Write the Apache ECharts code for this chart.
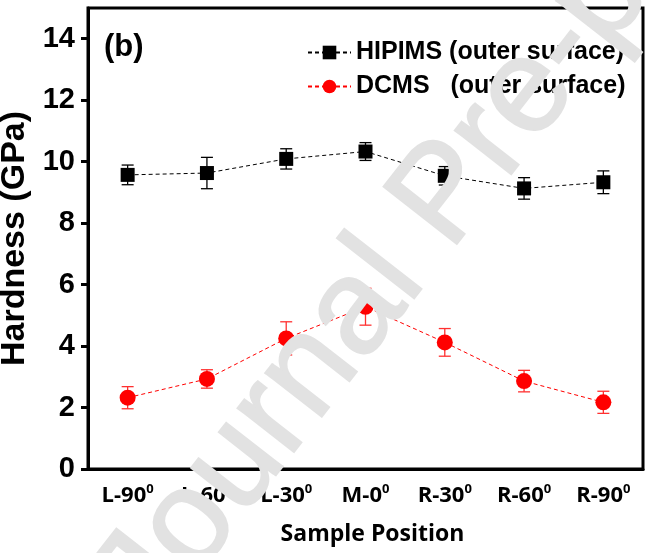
<!DOCTYPE html>
<html>
<head>
<meta charset="utf-8">
<script src="https://cdn.jsdelivr.net/npm/echarts@6/dist/echarts.min.js"></script>
<style>
  html, body { margin: 0; padding: 0; background: #fff; }
  #chart { width: 645px; height: 553px; }
</style>
</head>
<body>
<div id="chart"></div>
<script>
// Sample positions along the substrate (angle shown as a superscript 0)
const positions = ['L-90', 'L-60', 'L-30', 'M-0', 'R-30', 'R-60', 'R-90'];

// Hardness (GPa) and error bar half-widths
const hipimsHardness = [9.57, 9.63, 10.09, 10.33, 9.54, 9.13, 9.33];
const hipimsError    = [0.32, 0.51, 0.33, 0.29, 0.30, 0.35, 0.37];
const dcmsHardness   = [2.32, 2.93, 4.25, 5.28, 4.12, 2.86, 2.17];
const dcmsError      = [0.36, 0.30, 0.54, 0.60, 0.45, 0.35, 0.36];

// Y axis tick values
const yTicks = [0, 2, 4, 6, 8, 10, 12, 14];

const hipimsName = 'HIPIMS (outer surface)';
const dcmsName = 'DCMS   (outer surface)';

function errorData(values, errs) {
  return values.map((v, i) => [i, v - errs[i], v + errs[i]]);
}

function errorBarRenderer(color) {
  return function (params, api) {
    const lo = api.coord([api.value(0), api.value(1)]);
    const hi = api.coord([api.value(0), api.value(2)]);
    const half = 6;
    const style = { stroke: color, lineWidth: 1.3 };
    return {
      type: 'group',
      children: [
        { type: 'line', shape: { x1: lo[0], y1: lo[1], x2: hi[0], y2: hi[1] }, style: style },
        { type: 'line', shape: { x1: lo[0] - half, y1: lo[1], x2: lo[0] + half, y2: lo[1] }, style: style },
        { type: 'line', shape: { x1: hi[0] - half, y1: hi[1], x2: hi[0] + half, y2: hi[1] }, style: style }
      ]
    };
  };
}

const chart = echarts.init(document.getElementById('chart'), null, { renderer: 'canvas' });

chart.setOption({
  animation: false,
  backgroundColor: '#ffffff',
  title: {
    text: '(b)',
    left: 104,
    top: 32,
    padding: 0,
    textStyle: { fontSize: 31, fontWeight: 'bold', fontFamily: 'Liberation Sans', color: '#000' }
  },
  legend: {
    data: [hipimsName, dcmsName],
    orient: 'vertical',
    left: 302,
    top: 35,
    itemWidth: 43,
    itemHeight: 17,
    itemGap: 9,
    textStyle: { fontSize: 25, fontWeight: 'bold', fontFamily: 'Liberation Sans', color: '#000', lineHeight: 25 }
  },
  grid: {
    left: 88,
    right: 2,
    top: 8,
    bottom: 84,
    containLabel: false,
    outerBoundsMode: 'none',
    show: true,
    borderColor: '#000',
    borderWidth: 3,
    backgroundColor: 'transparent'
  },
  xAxis: {
    type: 'category',
    data: positions,
    boundaryGap: true,
    name: 'Sample Position',
    nameLocation: 'middle',
    nameGap: 54,
    nameTextStyle: { fontSize: 23, fontWeight: 'bold', fontFamily: 'Open Sans', color: '#000', padding: [0, 0, 0, 14] },
    axisLine: { lineStyle: { color: '#000', width: 3 } },
    axisTick: { alignWithLabel: true, length: 8, lineStyle: { color: '#000', width: 3 } },
    axisLabel: {
      interval: 0,
      margin: 14,
      formatter: v => '{a|' + v + '}{s|0}',
      rich: {
        a: { fontSize: 22, fontWeight: 'bold', fontFamily: 'Open Sans', color: '#000', lineHeight: 26 },
        s: { fontSize: 13, fontWeight: 'bold', fontFamily: 'Open Sans', color: '#000', lineHeight: 14, verticalAlign: 'top' }
      }
    },
    splitLine: { show: false }
  },
  yAxis: {
    type: 'value',
    min: 0,
    max: 15,
    interval: 2,
    name: 'Hardness (GPa)',
    nameLocation: 'middle',
    nameGap: 44,
    nameRotate: 90,
    nameTextStyle: { fontSize: 34, fontWeight: 'bold', fontFamily: 'Liberation Sans', color: '#000' },
    axisLine: { show: true, lineStyle: { color: '#000', width: 3 } },
    axisTick: { show: true, length: 7, customValues: yTicks, lineStyle: { color: '#000', width: 3 } },
    axisLabel: {
      margin: 13,
      customValues: yTicks,
      fontSize: 29,
      fontWeight: 'bold',
      fontFamily: 'Liberation Sans',
      color: '#000'
    },
    splitLine: { show: false }
  },
  graphic: [
    {
      type: 'text',
      x: 446,
      y: 197,
      rotation: 52 * Math.PI / 180,
      z: 100,
      silent: true,
      style: {
        text: 'Journal Pre-proof',
        fontSize: 135,
        fontFamily: 'Liberation Sans',
        fontWeight: 'normal',
        fill: '#e2e2e2',
        stroke: '#e2e2e2',
        lineWidth: 2,
        align: 'center',
        verticalAlign: 'middle'
      }
    }
  ],
  series: [
    {
      name: hipimsName,
      type: 'line',
      data: hipimsHardness,
      symbol: 'rect',
      symbolSize: 14,
      itemStyle: { color: '#000' },
      lineStyle: { color: '#000', width: 1, type: [4, 3] },
      z: 3
    },
    {
      name: dcmsName,
      type: 'line',
      data: dcmsHardness,
      symbol: 'circle',
      symbolSize: 16,
      itemStyle: { color: '#ff0000' },
      lineStyle: { color: '#ff0000', width: 1, type: [4, 3] },
      z: 3
    },
    {
      name: 'hipims-error',
      type: 'custom',
      data: errorData(hipimsHardness, hipimsError),
      renderItem: errorBarRenderer('#000'),
      encode: { x: 0, y: [1, 2] },
      z: 2
    },
    {
      name: 'dcms-error',
      type: 'custom',
      data: errorData(dcmsHardness, dcmsError),
      renderItem: errorBarRenderer('#ff3030'),
      encode: { x: 0, y: [1, 2] },
      z: 2
    }
  ]
});
</script>
</body>
</html>
